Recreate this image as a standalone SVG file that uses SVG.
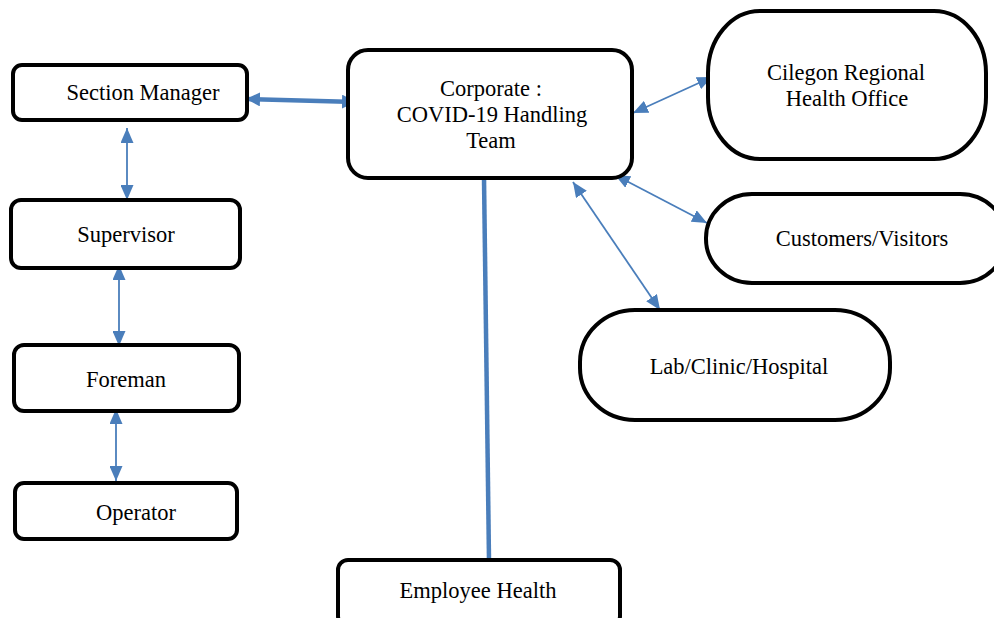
<svg xmlns="http://www.w3.org/2000/svg" width="994" height="618" viewBox="0 0 994 618">
<style>
.box{fill:#fff;stroke:#000;stroke-width:4}
.t{font-family:"Liberation Serif","Times New Roman",serif;font-size:22.5px;fill:#000;text-anchor:middle}
.c{fill:none;stroke:#4a7ebb;stroke-width:1.8}
.ct{fill:none;stroke:#4a7ebb;stroke-width:4.5}
</style>
<defs>
<marker id="ah" markerUnits="userSpaceOnUse" markerWidth="15" markerHeight="13" viewBox="0 0 15 13" refX="15" refY="6.5" orient="auto-start-reverse">
<path d="M0,0 L15,6.5 L0,13 Z" fill="#4a7ebb"/>
</marker>
<marker id="ahb" markerUnits="userSpaceOnUse" markerWidth="14" markerHeight="14" viewBox="0 0 14 14" refX="14" refY="7" orient="auto-start-reverse">
<path d="M0,0 L14,7 L0,14 Z" fill="#4a7ebb"/>
</marker>
</defs>
<g id="connectors">
<line class="ct" x1="246" y1="99" x2="356" y2="102" marker-start="url(#ahb)" marker-end="url(#ahb)"/>
<line class="c" x1="127" y1="128" x2="127" y2="200" marker-start="url(#ah)" marker-end="url(#ah)"/>
<line class="c" x1="119" y1="265" x2="119" y2="346" marker-start="url(#ah)" marker-end="url(#ah)"/>
<line class="c" x1="116" y1="409" x2="116" y2="481" marker-start="url(#ah)" marker-end="url(#ah)"/>
<line class="c" x1="633" y1="113" x2="712" y2="77" marker-start="url(#ah)" marker-end="url(#ah)"/>
<line class="c" x1="615" y1="175" x2="707" y2="223" marker-start="url(#ah)" marker-end="url(#ah)"/>
<line class="c" x1="573" y1="182" x2="660" y2="310" marker-start="url(#ah)" marker-end="url(#ah)"/>
<line class="ct" x1="484" y1="178" x2="489" y2="560"/>
</g>
<g id="section-manager">
<rect class="box" x="13" y="65" width="234" height="55" rx="9"/>
<text class="t" x="143" y="100">Section Manager</text>
</g>
<g id="supervisor">
<rect class="box" x="11" y="200" width="229" height="68" rx="10"/>
<text class="t" x="126" y="242">Supervisor</text>
</g>
<g id="foreman">
<rect class="box" x="14" y="345" width="225" height="66" rx="10"/>
<text class="t" x="126" y="387">Foreman</text>
</g>
<g id="operator">
<rect class="box" x="15" y="483" width="222" height="56" rx="9"/>
<text class="t" x="136" y="520">Operator</text>
</g>
<g id="corporate">
<rect class="box" x="348" y="50" width="284" height="128" rx="20"/>
<text class="t" x="491" y="96">Corporate :</text>
<text class="t" x="492" y="122">COVID-19 Handling</text>
<text class="t" x="491" y="148">Team</text>
</g>
<g id="cilegon">
<rect class="box" x="708" y="11" width="278" height="148" rx="52" ry="62"/>
<text class="t" x="846" y="80">Cilegon Regional</text>
<text class="t" x="847" y="106">Health Office</text>
</g>
<g id="customers">
<rect class="box" x="706" y="194" width="300" height="89" rx="46" ry="44"/>
<text class="t" x="862" y="246">Customers/Visitors</text>
</g>
<g id="lab">
<rect class="box" x="580" y="310" width="310" height="110" rx="55" ry="52"/>
<text class="t" x="739" y="374">Lab/Clinic/Hospital</text>
</g>
<g id="employee-health">
<rect class="box" x="338" y="560" width="282" height="66" rx="10"/>
<text class="t" x="478" y="598">Employee Health</text>
</g>
</svg>
